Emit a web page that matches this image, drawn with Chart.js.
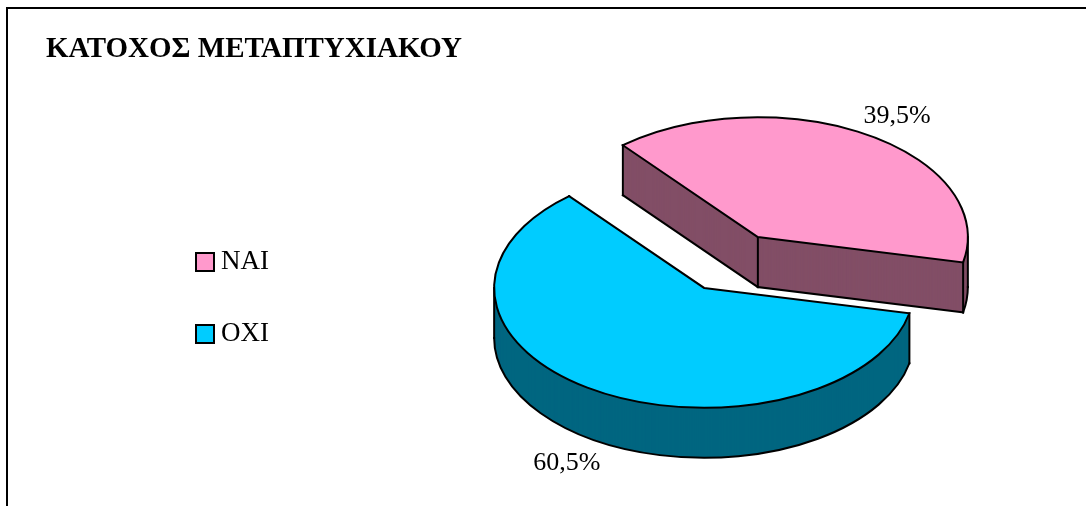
<!DOCTYPE html>
<html><head><meta charset="utf-8">
<style>html,body{margin:0;padding:0;background:#fff;overflow:hidden}canvas{display:block}</style>
<script src="https://cdn.jsdelivr.net/npm/chart.js@4"></script>
</head><body><canvas id="c" width="1086" height="506"></canvas>
<script>
const categories = ["ΝΑΙ", "ΟΧΙ"];
const values = [39.5, 60.5];
const valueLabels = ["39,5%", "60,5%"];
const chartTitle = "ΚΑΤΟΧΟΣ ΜΕΤΑΠΤΥΧΙΑΚΟΥ";
const topColors = ["#FF99CC", "#00CCFF"];
const wallColors = ["#824E66", "#006680"];

const SERIF = '"Liberation Serif","Times New Roman",serif';
const CX = 731, CY = 262.5, K = 0.571, DEPTH = 50, EXPLODE = 52, R = 210;
const LEGEND_X = 196, LEGEND_Y = [262, 334], BOX = 18;
const LABEL_NUDGE = [[7, 4], [-5, 0]];

const pie3d = {
  id: 'pie3d',
  beforeDraw(chart) {
    const c = chart.ctx;
    c.save();
    c.strokeStyle = '#000'; c.lineWidth = 2;
    c.beginPath();
    c.moveTo(7, 506); c.lineTo(7, 8); c.lineTo(1086, 8);
    c.stroke();
    c.restore();
  },
  beforeDatasetsDraw(chart) {
    const c = chart.ctx;
    const arcs = chart.getDatasetMeta(0).data;
    const place = (arc, depth) => {
      const mid = (arc.startAngle + arc.endAngle) / 2;
      c.translate(CX + Math.cos(mid) * EXPLODE - arc.x, CY + depth + Math.sin(mid) * EXPLODE * K - arc.y * K);
      c.scale(1, K);
    };
    const pt = (arc, a, depth, r) => {
      const mid = (arc.startAngle + arc.endAngle) / 2;
      return [CX + Math.cos(mid) * EXPLODE + Math.cos(a) * r,
              CY + depth + (Math.sin(mid) * EXPLODE + Math.sin(a) * r) * K];
    };
    const line = (p, q) => { c.beginPath(); c.moveTo(p[0], p[1]); c.lineTo(q[0], q[1]); c.stroke(); };
    const TAU = Math.PI * 2;
    const inRange = (a, s, e) => { while (a < s) a += TAU; return a <= e; };
    arcs.forEach((arc, i) => {
      const s = arc.startAngle, e = arc.endAngle, r = arc.outerRadius;
      const wall = Object.create(arc);
      wall.options = Object.assign({}, arc.options, { backgroundColor: wallColors[i], borderWidth: 0 });
      for (let d = DEPTH; d > 0; d--) {
        c.save(); place(arc, d); Chart.ArcElement.prototype.draw.call(wall, c); c.restore();
      }
      c.save();
      c.strokeStyle = '#000'; c.lineWidth = 2; c.lineJoin = 'miter'; c.lineCap = 'square';
      // lower rim of the wall: only the part of the sector facing the viewer
      [[0, Math.PI], [TAU, TAU + Math.PI], [-TAU, -Math.PI]].forEach(([lo, hi]) => {
        const a0 = Math.max(s, lo), a1 = Math.min(e, hi);
        if (a1 > a0) {
          c.save(); place(arc, DEPTH); c.beginPath(); c.arc(arc.x, arc.y, r, a0, a1); c.restore(); c.stroke();
        }
      });
      const startVisible = Math.sin(s - Math.PI / 2) > 0;
      const endVisible = Math.cos(e) > 0;
      const centre = pt(arc, 0, DEPTH, 0), centreTop = pt(arc, 0, 0, 0);
      if (startVisible) line(centre, pt(arc, s, DEPTH, r));
      if (endVisible) line(centre, pt(arc, e, DEPTH, r));
      if (startVisible || endVisible) line(centreTop, centre);
      [s, e, 0, Math.PI].forEach(a => {
        if (a === s || a === e || inRange(a, s, e)) line(pt(arc, a, 0, r), pt(arc, a, DEPTH, r));
      });
      c.restore();
      // top face, drawn by the arc element itself
      c.save(); place(arc, 0); arc.draw(c); c.restore();
      c.save();
      c.strokeStyle = '#000'; c.lineWidth = 2; c.lineJoin = 'miter';
      c.save(); place(arc, 0); c.beginPath(); c.moveTo(arc.x, arc.y); c.arc(arc.x, arc.y, r, s, e); c.closePath(); c.restore(); c.stroke();
      c.restore();
    });
    // value labels and legend
    c.save();
    c.fillStyle = '#000'; c.font = '26px ' + SERIF; c.textAlign = 'center'; c.textBaseline = 'middle';
    arcs.forEach((arc, i) => {
      const mid = (arc.startAngle + arc.endAngle) / 2;
      const d = Math.sin(mid) > 0 ? DEPTH : 0;
      const p = pt(arc, mid, d, arc.outerRadius * 1.22);
      c.fillText(valueLabels[i], p[0] + LABEL_NUDGE[i][0], p[1] + LABEL_NUDGE[i][1]);
    });
    c.textAlign = 'left'; c.font = '27px ' + SERIF;
    categories.forEach((name, i) => {
      const y = LEGEND_Y[i];
      c.fillStyle = topColors[i]; c.fillRect(LEGEND_X, y - BOX / 2, BOX, BOX);
      c.strokeStyle = '#000'; c.lineWidth = 2; c.strokeRect(LEGEND_X, y - BOX / 2, BOX, BOX);
      c.fillStyle = '#000'; c.fillText(name, LEGEND_X + BOX + 7, y);
    });
    c.restore();
    return false;
  }
};

new Chart(document.getElementById('c'), {
  type: 'pie',
  data: { labels: categories, datasets: [{ data: values, backgroundColor: topColors, borderWidth: 0 }] },
  options: {
    responsive: false, animation: false, rotation: -40, radius: R,
    layout: { padding: { left: 46, top: 32 } },
    plugins: {
      legend: { display: false }, tooltip: { enabled: false },
      title: { display: true, text: chartTitle, align: 'start', color: '#000', padding: 0,
        font: { family: SERIF, size: 29, weight: 'bold' } }
    }
  },
  plugins: [pie3d]
});
</script></body></html>
